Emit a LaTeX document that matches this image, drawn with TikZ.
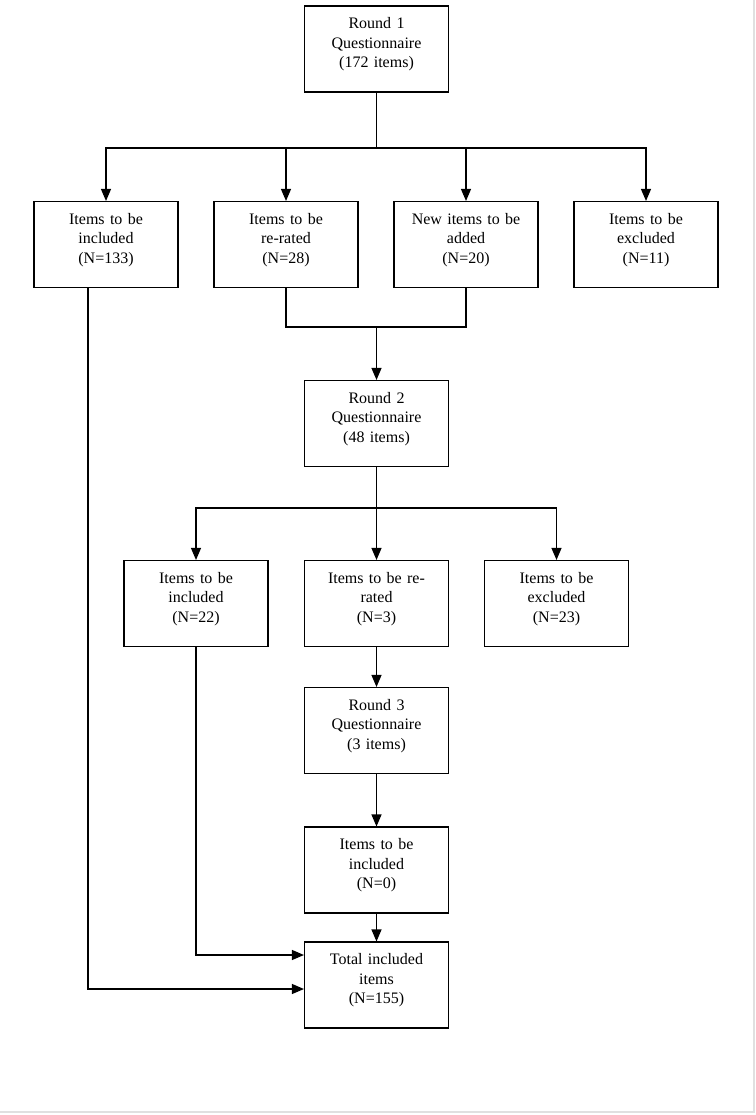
\documentclass[tikz,border=0pt]{standalone}
\usepackage{fontspec}
\setmainfont{Liberation Serif}
\usetikzlibrary{arrows.meta}
\begin{document}
\begin{tikzpicture}[x=1pt, y=-1pt, line width=1.1pt,
    stage/.style={rectangle, draw, minimum width=144pt, minimum height=86pt, text width=140pt,
      align=center, inner sep=2pt, font=\fontsize{16}{19.5}\selectfont,
      execute at end node={\endgraf\vspace*{9pt}}},
    flow/.style={-{Triangle[length=12pt,width=10pt]}}]
  \useasboundingbox (0,0) rectangle (755,1115);
  \draw[black!12, line width=1.5pt] (754,0) -- (754,1112) -- (0,1112);
  % round 1
  \node (r1)[stage] at (376.5, 49) {Round 1\\Questionnaire\\(172 items)};
  \node (inc1)[stage] at (106, 244.5) {Items to be\\included\\(N=133)};
  \node (rer1)[stage] at (286, 244.5) {Items to be\\re-rated\\(N=28)};
  \node (new1)[stage] at (466, 244.5) {New items to be\\added\\(N=20)};
  \node (exc1)[stage] at (646, 244.5) {Items to be\\excluded\\(N=11)};
  % round 2
  \node (r2)[stage] at (376.5, 423.5) {Round 2\\Questionnaire\\(48 items)};
  \node (inc2)[stage] at (196, 603.5) {Items to be\\included\\(N=22)};
  \node (rer2)[stage] at (376.5, 603.5) {Items to be re-\\rated\\(N=3)};
  \node (exc2)[stage] at (556.5, 603.5) {Items to be\\excluded\\(N=23)};
  % round 3
  \node (r3)[stage] at (376.5, 730.5) {Round 3\\Questionnaire\\(3 items)};
  \node (inc3)[stage] at (376.5, 870) {Items to be\\included\\(N=0)};
  \node (total)[stage] at (376.5, 985) {Total included\\items\\(N=155)};
  \coordinate (split1) at (376.5, 148);
  \coordinate (join1) at (376.5, 327);
  \coordinate (split2) at (376.5, 508);
  \draw (r1) -- (split1);
  \draw[flow] (split1) -| (inc1);
  \draw[flow] (split1) -| (rer1);
  \draw[flow] (split1) -| (new1);
  \draw[flow] (split1) -| (exc1);
  \draw (rer1) |- (join1) -| (new1);
  \draw[flow] (join1) -- (r2);
  \draw (r2) -- (split2);
  \draw[flow] (split2) -| (inc2);
  \draw[flow] (split2) -- (rer2);
  \draw[flow] (split2) -| (exc2);
  \draw[flow] (rer2) -- (r3);
  \draw[flow] (r3) -- (inc3);
  \draw[flow] (inc3) -- (total);
  \draw[flow] (inc2) |- ([yshift=30pt]total.west);
  \draw[flow] ([xshift=-18pt]inc1.south) |- ([yshift=-4pt]total.west);
\end{tikzpicture}
\end{document}
